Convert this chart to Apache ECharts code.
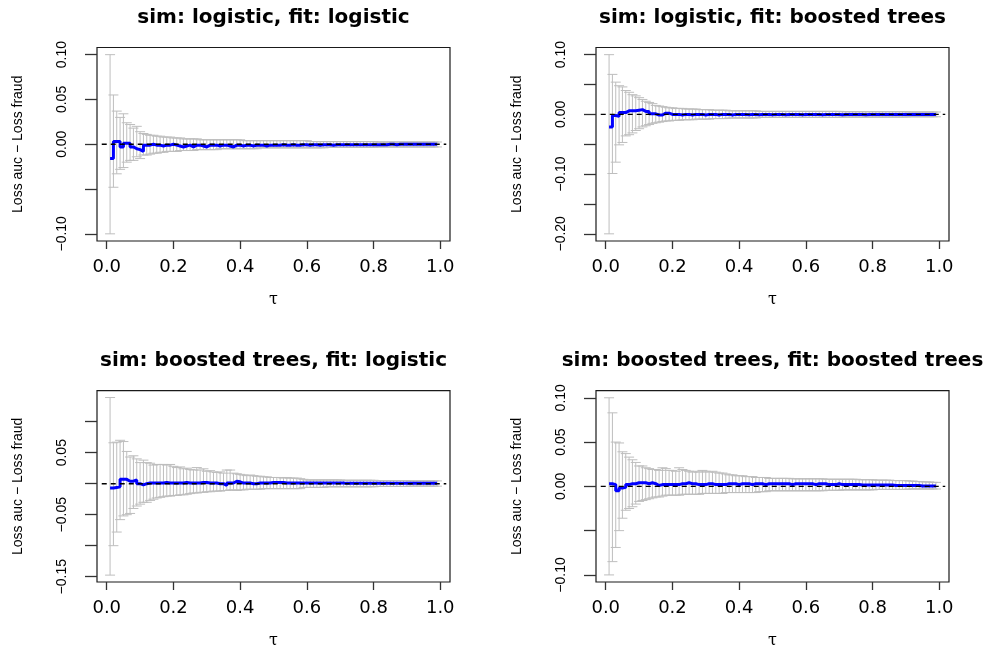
<!DOCTYPE html>
<html>
<head>
<meta charset="utf-8">
<script src="https://cdn.jsdelivr.net/npm/echarts@6.0.0/dist/echarts.min.js"></script>
<style>
    html, body { margin: 0; padding: 0; background: #fff; }
    #chart-main { width: 986px; height: 650px; }
</style>
</head>
<body>
<div id="chart-main"></div>
<script>
let tau = [
    0.01, 0.02, 0.03, 0.04, 0.05, 0.06, 0.07, 0.08, 0.09, 0.10,
    0.11, 0.12, 0.13, 0.14, 0.15, 0.16, 0.17, 0.18, 0.19, 0.20,
    0.21, 0.22, 0.23, 0.24, 0.25, 0.26, 0.27, 0.28, 0.29, 0.30,
    0.31, 0.32, 0.33, 0.34, 0.35, 0.36, 0.37, 0.38, 0.39, 0.40,
    0.41, 0.42, 0.43, 0.44, 0.45, 0.46, 0.47, 0.48, 0.49, 0.50,
    0.51, 0.52, 0.53, 0.54, 0.55, 0.56, 0.57, 0.58, 0.59, 0.60,
    0.61, 0.62, 0.63, 0.64, 0.65, 0.66, 0.67, 0.68, 0.69, 0.70,
    0.71, 0.72, 0.73, 0.74, 0.75, 0.76, 0.77, 0.78, 0.79, 0.80,
    0.81, 0.82, 0.83, 0.84, 0.85, 0.86, 0.87, 0.88, 0.89, 0.90,
    0.91, 0.92, 0.93, 0.94, 0.95, 0.96, 0.97, 0.98, 0.99
];

// sim: logistic, fit: logistic
let meanLogLog = [
    -0.016, 0.003, 0.003, -0.003, 0.001, 0.001, -0.003, -0.005, -0.006, -0.008,
    -0.001, -0.001, 0, -0.001, -0.001, -0.002, -0.001, -0.001, 0, -0.001,
    -0.002, -0.003, -0.002, -0.001, -0.003, -0.001, -0.001, -0.002, -0.003, -0.001,
    -0.001, -0.001, -0.002, -0.001, -0.001, -0.002, -0.003, -0.001, -0.001, -0.002,
    -0.001, -0.001, -0.002, -0.001, -0.001, -0.001, -0.002, -0.001, -0.001, -0.001,
    -0.001, -0.0005, -0.001, -0.001, -0.0005, -0.001, -0.001, -0.0005, -0.0005, -0.001,
    -0.0005, -0.0005, -0.001, -0.0005, -0.0005, -0.0005, -0.001, -0.0005, -0.0005, -0.0005,
    -0.0005, -0.0005, -0.0005, -0.0005, -0.0005, -0.0005, -0.0005, -0.0005, -0.0005, -0.0005,
    -0.0005, -0.0005, -0.0005, 0, 0, -0.0005, 0, 0, 0, 0,
    0, 0, 0, 0, 0, 0, 0, 0, 0
];
let lowLogLog = [
    -0.100, -0.048, -0.033, -0.028, -0.026, -0.020, -0.018, -0.018, -0.014, -0.016,
    -0.012, -0.012, -0.011, -0.010, -0.010, -0.009, -0.009, -0.008, -0.008, -0.008,
    -0.008, -0.007, -0.007, -0.007, -0.007, -0.007, -0.006, -0.006, -0.006, -0.006,
    -0.006, -0.006, -0.006, -0.005, -0.005, -0.005, -0.005, -0.005, -0.005, -0.005,
    -0.005, -0.005, -0.005, -0.005, -0.005, -0.004, -0.004, -0.004, -0.004, -0.004,
    -0.004, -0.004, -0.004, -0.004, -0.004, -0.004, -0.004, -0.004, -0.004, -0.004,
    -0.004, -0.004, -0.004, -0.004, -0.004, -0.0035, -0.0035, -0.0035, -0.0035, -0.0035,
    -0.0035, -0.0035, -0.0035, -0.0035, -0.0035, -0.0035, -0.0035, -0.0035, -0.0035, -0.0035,
    -0.003, -0.003, -0.003, -0.003, -0.003, -0.003, -0.003, -0.003, -0.003, -0.003,
    -0.003, -0.003, -0.003, -0.003, -0.003, -0.003, -0.003, -0.003, -0.003
];
let highLogLog = [
    0.100, 0.055, 0.037, 0.030, 0.034, 0.024, 0.022, 0.018, 0.020, 0.014,
    0.012, 0.011, 0.010, 0.010, 0.009, 0.009, 0.008, 0.008, 0.008, 0.007,
    0.007, 0.007, 0.006, 0.006, 0.006, 0.006, 0.006, 0.005, 0.005, 0.005,
    0.005, 0.005, 0.005, 0.005, 0.005, 0.005, 0.005, 0.005, 0.005, 0.005,
    0.004, 0.004, 0.004, 0.004, 0.004, 0.004, 0.004, 0.004, 0.004, 0.004,
    0.004, 0.004, 0.004, 0.004, 0.004, 0.004, 0.004, 0.004, 0.004, 0.004,
    0.003, 0.003, 0.003, 0.003, 0.003, 0.003, 0.003, 0.003, 0.003, 0.003,
    0.003, 0.003, 0.003, 0.003, 0.003, 0.003, 0.003, 0.003, 0.003, 0.003,
    0.0025, 0.0025, 0.0025, 0.0025, 0.0025, 0.0025, 0.0025, 0.0025, 0.0025, 0.0025,
    0.0025, 0.0025, 0.0025, 0.0025, 0.0025, 0.0025, 0.0025, 0.0025, 0.0025
];

// sim: logistic, fit: boosted trees
let meanLogBt = [
    -0.021, -0.002, -0.003, 0.003, 0.003, 0.006, 0.006, 0.006, 0.007, 0.008,
    0.005, 0.005, 0.001, 0.001, -0.001, -0.001, 0.002, 0.002, 0, 0,
    0, -0.001, 0, 0, -0.001, 0, 0, 0, -0.001, 0,
    0, 0, -0.001, 0, 0, 0, -0.001, 0, 0, 0,
    0, -0.0005, 0, 0, -0.0005, 0, 0, 0, -0.0005, 0,
    0, 0, -0.0005, 0, 0, 0, 0, -0.0005, 0, 0,
    0, 0, 0, -0.0005, 0, 0, 0, 0, 0, -0.0005,
    0, 0, 0, 0, 0, 0, -0.0005, 0, 0, 0,
    0, 0, 0, 0, 0, 0, 0, 0, 0, 0,
    0, 0, 0, 0, 0, 0, 0, 0, 0
];
let lowLogBt = [
    -0.200, -0.099, -0.080, -0.051, -0.047, -0.036, -0.034, -0.031, -0.027, -0.024,
    -0.021, -0.019, -0.017, -0.015, -0.014, -0.013, -0.012, -0.011, -0.011, -0.010,
    -0.010, -0.010, -0.009, -0.009, -0.009, -0.009, -0.008, -0.008, -0.008, -0.008,
    -0.008, -0.007, -0.007, -0.007, -0.007, -0.007, -0.006, -0.006, -0.006, -0.006,
    -0.006, -0.006, -0.006, -0.006, -0.006, -0.005, -0.005, -0.005, -0.005, -0.005,
    -0.005, -0.005, -0.005, -0.005, -0.005, -0.005, -0.005, -0.005, -0.005, -0.005,
    -0.005, -0.005, -0.005, -0.005, -0.005, -0.005, -0.005, -0.005, -0.005, -0.005,
    -0.0045, -0.0045, -0.0045, -0.0045, -0.0045, -0.0045, -0.0045, -0.0045, -0.0045, -0.0045,
    -0.0045, -0.0045, -0.0045, -0.0045, -0.0045, -0.0045, -0.0045, -0.0045, -0.0045, -0.0045,
    -0.004, -0.004, -0.004, -0.004, -0.004, -0.004, -0.004, -0.004, -0.004
];
let highLogBt = [
    0.100, 0.067, 0.054, 0.048, 0.046, 0.040, 0.037, 0.033, 0.031, 0.028,
    0.025, 0.022, 0.020, 0.018, 0.015, 0.014, 0.013, 0.012, 0.011, 0.011,
    0.010, 0.010, 0.010, 0.009, 0.009, 0.009, 0.009, 0.008, 0.008, 0.008,
    0.008, 0.007, 0.007, 0.007, 0.007, 0.007, 0.006, 0.006, 0.006, 0.006,
    0.006, 0.006, 0.006, 0.006, 0.006, 0.005, 0.005, 0.005, 0.005, 0.005,
    0.005, 0.005, 0.005, 0.005, 0.005, 0.005, 0.005, 0.005, 0.005, 0.005,
    0.005, 0.005, 0.005, 0.005, 0.005, 0.005, 0.005, 0.005, 0.005, 0.005,
    0.0045, 0.0045, 0.0045, 0.0045, 0.0045, 0.0045, 0.0045, 0.0045, 0.0045, 0.0045,
    0.0045, 0.0045, 0.0045, 0.0045, 0.0045, 0.0045, 0.0045, 0.0045, 0.0045, 0.0045,
    0.004, 0.004, 0.004, 0.004, 0.004, 0.004, 0.004, 0.004, 0.004
];

// sim: boosted trees, fit: logistic
let meanBtLog = [
    -0.007, -0.006, -0.005, 0.007, 0.007, 0.004, 0.004, 0.006, 0, -0.002,
    0, 0.001, 0.001, 0.001, 0.001, 0.001, 0.002, 0.001, 0.001, 0.001,
    0.001, 0.001, 0.002, 0.001, 0.001, 0.001, 0.001, 0.002, 0.002, 0.001,
    0.001, 0.001, 0, 0, -0.003, 0.001, 0.001, 0.004, 0.003, 0.001,
    0.001, 0.001, 0, 0, 0.001, 0.001, 0.001, 0.001, 0.002, 0.002,
    0.002, 0.002, 0.001, 0.001, 0.001, 0.001, 0.001, 0.001, 0.001, 0.001,
    0.001, 0.001, 0.001, 0.001, 0.001, 0.001, 0.001, 0.001, 0.001, 0.001,
    0.0005, 0.0005, 0.0005, 0.0005, 0.0005, 0.0005, 0.0005, 0.0005, 0.0005, 0.0005,
    0.0005, 0.0005, 0.0005, 0.0005, 0.0005, 0.0005, 0.0005, 0.0005, 0.0005, 0.0005,
    0.0005, 0.0005, 0.0005, 0.0005, 0.0005, 0.0005, 0.0005, 0.0005, 0.0005
];
let lowBtLog = [
    -0.1475, -0.100, -0.078, -0.058, -0.052, -0.050, -0.048, -0.040, -0.036, -0.033,
    -0.030, -0.030, -0.027, -0.025, -0.023, -0.022, -0.021, -0.020, -0.020, -0.019,
    -0.019, -0.018, -0.018, -0.017, -0.016, -0.015, -0.015, -0.014, -0.014, -0.013,
    -0.013, -0.012, -0.012, -0.012, -0.011, -0.011, -0.010, -0.010, -0.011, -0.010,
    -0.010, -0.009, -0.009, -0.009, -0.009, -0.009, -0.008, -0.008, -0.008, -0.008,
    -0.008, -0.008, -0.008, -0.008, -0.008, -0.008, -0.008, -0.008, -0.006, -0.006,
    -0.006, -0.006, -0.006, -0.006, -0.006, -0.005, -0.005, -0.005, -0.005, -0.005,
    -0.005, -0.005, -0.005, -0.005, -0.005, -0.005, -0.005, -0.005, -0.005, -0.005,
    -0.0045, -0.0045, -0.0045, -0.0045, -0.0045, -0.0045, -0.0045, -0.0045, -0.0045, -0.0045,
    -0.004, -0.004, -0.004, -0.004, -0.004, -0.004, -0.004, -0.004, -0.004
];
let highBtLog = [
    0.139, 0.066, 0.067, 0.070, 0.068, 0.052, 0.043, 0.045, 0.040, 0.034,
    0.038, 0.034, 0.033, 0.030, 0.031, 0.031, 0.031, 0.030, 0.031, 0.028,
    0.026, 0.027, 0.024, 0.025, 0.023, 0.022, 0.026, 0.022, 0.024, 0.020,
    0.021, 0.019, 0.018, 0.019, 0.017, 0.022, 0.022, 0.017, 0.016, 0.015,
    0.014, 0.013, 0.014, 0.013, 0.012, 0.012, 0.011, 0.011, 0.010, 0.010,
    0.010, 0.010, 0.009, 0.010, 0.009, 0.009, 0.009, 0.008, 0.007, 0.006,
    0.006, 0.006, 0.006, 0.006, 0.006, 0.006, 0.006, 0.006, 0.006, 0.006,
    0.0055, 0.0055, 0.0055, 0.0055, 0.0055, 0.0055, 0.0055, 0.0055, 0.0055, 0.0055,
    0.005, 0.005, 0.005, 0.005, 0.005, 0.005, 0.005, 0.005, 0.005, 0.005,
    0.0045, 0.0045, 0.0045, 0.0045, 0.0045, 0.0045, 0.0045, 0.0045, 0.0045
];

// sim: boosted trees, fit: boosted trees
let meanBtBt = [
    0.003, 0.002, -0.005, -0.002, -0.001, 0.002, 0.003, 0.003, 0.004, 0.004,
    0.004, 0.003, 0.004, 0.003, 0.001, 0.002, 0.002, 0.002, 0.002, 0.002,
    0.002, 0.003, 0.003, 0.004, 0.003, 0.003, 0.002, 0.002, 0.002, 0.003,
    0.003, 0.002, 0.002, 0.002, 0.002, 0.003, 0.003, 0.003, 0.002, 0.003,
    0.003, 0.003, 0.002, 0.003, 0.003, 0.003, 0.002, 0.003, 0.003, 0.003,
    0.003, 0.003, 0.003, 0.003, 0.002, 0.003, 0.003, 0.003, 0.003, 0.003,
    0.003, 0.002, 0.003, 0.003, 0.003, 0.002, 0.002, 0.002, 0.003, 0.002,
    0.002, 0.002, 0.002, 0.002, 0.002, 0.0015, 0.0015, 0.0015, 0.0015, 0.0015,
    0.0015, 0.0015, 0.0015, 0.0015, 0.0015, 0.001, 0.001, 0.001, 0.001, 0.001,
    0.001, 0.001, 0.001, 0.0005, 0.0005, 0.0005, 0.0005, 0.0005, 0.0005
];
let lowBtBt = [
    -0.100, -0.085, -0.069, -0.050, -0.036, -0.027, -0.025, -0.023, -0.020, -0.017,
    -0.016, -0.015, -0.014, -0.013, -0.012, -0.012, -0.011, -0.010, -0.010, -0.010,
    -0.010, -0.010, -0.009, -0.009, -0.009, -0.009, -0.009, -0.009, -0.008, -0.008,
    -0.008, -0.008, -0.008, -0.008, -0.008, -0.007, -0.007, -0.007, -0.007, -0.007,
    -0.007, -0.007, -0.007, -0.007, -0.007, -0.006, -0.006, -0.006, -0.005, -0.005,
    -0.005, -0.005, -0.005, -0.005, -0.005, -0.005, -0.005, -0.005, -0.005, -0.005,
    -0.005, -0.005, -0.005, -0.005, -0.005, -0.0045, -0.0045, -0.0045, -0.0045, -0.0045,
    -0.004, -0.004, -0.004, -0.004, -0.004, -0.004, -0.004, -0.004, -0.004, -0.004,
    -0.0035, -0.0035, -0.0035, -0.0035, -0.0035, -0.0035, -0.0035, -0.0035, -0.0035, -0.0035,
    -0.003, -0.003, -0.003, -0.003, -0.003, -0.003, -0.003, -0.003, -0.003
];
let highBtBt = [
    0.100, 0.083, 0.050, 0.049, 0.039, 0.037, 0.033, 0.030, 0.027, 0.023,
    0.023, 0.021, 0.020, 0.019, 0.019, 0.018, 0.021, 0.020, 0.018, 0.018,
    0.017, 0.021, 0.019, 0.018, 0.017, 0.016, 0.017, 0.016, 0.018, 0.017,
    0.016, 0.017, 0.016, 0.015, 0.015, 0.014, 0.013, 0.013, 0.012, 0.012,
    0.012, 0.011, 0.011, 0.011, 0.010, 0.010, 0.010, 0.010, 0.009, 0.009,
    0.009, 0.009, 0.009, 0.009, 0.009, 0.0085, 0.0085, 0.0085, 0.0085, 0.0085,
    0.0085, 0.0085, 0.0085, 0.0085, 0.0085, 0.008, 0.008, 0.008, 0.008, 0.008,
    0.008, 0.008, 0.008, 0.008, 0.008, 0.0075, 0.0075, 0.0075, 0.0075, 0.0075,
    0.007, 0.007, 0.007, 0.007, 0.007, 0.0065, 0.0065, 0.0065, 0.0065, 0.0065,
    0.006, 0.006, 0.0055, 0.0055, 0.005, 0.005, 0.005, 0.0045, 0.0045
];

let panelTitles = [
    "sim: logistic, fit: logistic",
    "sim: logistic, fit: boosted trees",
    "sim: boosted trees, fit: logistic",
    "sim: boosted trees, fit: boosted trees"
];
let xTicks = [0, 0.2, 0.4, 0.6, 0.8, 1.0];
let yTicksLogLog = [-0.10, -0.05, 0, 0.05, 0.10];
let yLabelsLogLog = [-0.10, 0, 0.05, 0.10];
let yTicksLogBt = [-0.20, -0.15, -0.10, -0.05, 0, 0.05, 0.10];
let yLabelsLogBt = [-0.20, -0.10, 0, 0.10];
let yTicksBtLog = [-0.15, -0.10, -0.05, 0, 0.05, 0.10];
let yLabelsBtLog = [-0.15, -0.05, 0.05];
let yTicksBtBt = [-0.10, -0.05, 0, 0.05, 0.10];
let yLabelsBtBt = [-0.10, 0, 0.05, 0.10];
let zeroLine = [[-0.015, 0], [1.018, 0]];

let panels = [
    { mean: meanLogLog, low: lowLogLog, high: highLogLog, ticks: yTicksLogLog, labels: yLabelsLogLog, range: [-0.108, 0.108] },
    { mean: meanLogBt, low: lowLogBt, high: highLogBt, ticks: yTicksLogBt, labels: yLabelsLogBt, range: [-0.212, 0.112] },
    { mean: meanBtLog, low: lowBtLog, high: highBtLog, ticks: yTicksBtLog, labels: yLabelsBtLog, range: [-0.1586, 0.150] },
    { mean: meanBtBt, low: lowBtBt, high: highBtBt, ticks: yTicksBtBt, labels: yLabelsBtBt, range: [-0.108, 0.108] }
];
let boxes = [
    { left: 97, top: 47.5 },
    { left: 596, top: 47.5 },
    { left: 97, top: 390.7 },
    { left: 596, top: 390.7 }
];

let myChart = echarts.init(document.getElementById("chart-main"), null, { renderer: "canvas" });

function fmtY(v) {
    let s = Math.abs(v).toFixed(2);
    return v < -1e-9 ? "\u2212" + s : s;
}

function renderErrorBar(params, api) {
    let x = api.value(0);
    let pLow = api.coord([x, api.value(1)]);
    let pHigh = api.coord([x, api.value(2)]);
    let w = 5;
    let style = { stroke: "#bebebe", lineWidth: 1 };
    return {
        type: "group",
        children: [
            { type: "line", shape: { x1: pLow[0], y1: pLow[1], x2: pHigh[0], y2: pHigh[1] }, style: style },
            { type: "line", shape: { x1: pLow[0] - w, y1: pLow[1], x2: pLow[0] + w, y2: pLow[1] }, style: style },
            { type: "line", shape: { x1: pHigh[0] - w, y1: pHigh[1], x2: pHigh[0] + w, y2: pHigh[1] }, style: style }
        ]
    };
}

let grid = [], xAxis = [], yAxis = [], title = [], series = [];
panels.forEach(function (p, i) {
    let b = boxes[i];
    grid.push({
        left: b.left, top: b.top, width: 353, height: 193.5,
        show: true, borderColor: "#1a1a1a", borderWidth: 1.2, backgroundColor: "transparent"
    });
    // title padding is 5px, so pull the anchor back to centre on the box
    title.push({
        text: panelTitles[i],
        left: b.left + 171.5, top: b.top - 45, textAlign: "center",
        textStyle: { fontFamily: "DejaVu Sans", fontWeight: "bold", fontSize: 20, color: "#000" }
    });
    xAxis.push({
        type: "value", gridIndex: i, min: -0.0292, max: 1.0292, position: "bottom",
        name: "\u03c4", nameLocation: "middle", nameGap: 51,
        nameTextStyle: { fontFamily: "DejaVu Serif", fontSize: 16, color: "#000" },
        axisLine: { show: false, onZero: false },
        splitLine: { show: false },
        axisTick: { show: true, length: 8, customValues: xTicks, lineStyle: { color: "#333", width: 1.3 } },
        axisLabel: {
            customValues: xTicks, margin: 17, color: "#000",
            fontFamily: "DejaVu Sans", fontSize: 18,
            formatter: function (v) { return v.toFixed(1); }
        }
    });
    yAxis.push({
        type: "value", gridIndex: i, min: p.range[0], max: p.range[1], position: "left",
        name: "Loss auc \u2212 Loss fraud", nameLocation: "middle", nameGap: 72, nameRotate: 90,
        nameTextStyle: { fontFamily: "Liberation Sans", fontSize: 14, color: "#000" },
        axisLine: { show: false, onZero: false },
        splitLine: { show: false },
        axisTick: { show: true, length: 12, customValues: p.ticks, lineStyle: { color: "#333", width: 1.3 } },
        axisLabel: {
            customValues: p.labels, rotate: 90, margin: 28, color: "#000",
            fontFamily: "Liberation Sans", fontSize: 14,
            formatter: fmtY
        }
    });
    series.push({
        type: "custom", xAxisIndex: i, yAxisIndex: i,
        renderItem: renderErrorBar,
        data: tau.map(function (t, k) { return [t, p.low[k], p.high[k]]; }),
        silent: true, z: 1
    });
    series.push({
        type: "line", xAxisIndex: i, yAxisIndex: i,
        data: tau.map(function (t, k) { return [t, p.mean[k]]; }),
        step: "end", showSymbol: false, symbol: "none",
        lineStyle: { color: "#0000ff", width: 3 }, z: 2
    });
    series.push({
        type: "line", xAxisIndex: i, yAxisIndex: i,
        data: zeroLine, showSymbol: false, symbol: "none",
        lineStyle: { color: "#000", width: 1.4, type: [5, 4] }, z: 3
    });
});

let option = {
    animation: false,
    backgroundColor: "#fff",
    title: title,
    grid: grid,
    xAxis: xAxis,
    yAxis: yAxis,
    series: series
};
option && myChart.setOption(option);
</script>
</body>
</html>
